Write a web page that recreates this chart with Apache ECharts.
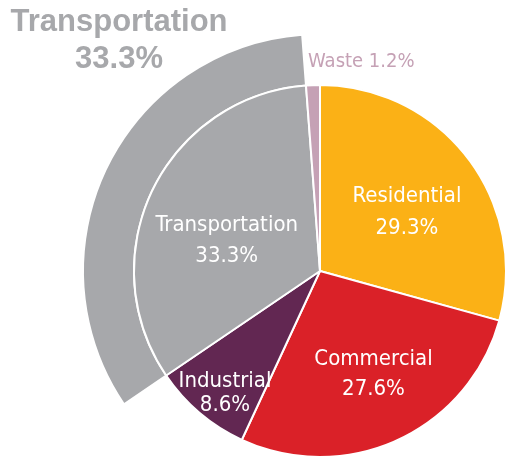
<!DOCTYPE html>
<html><head><meta charset="utf-8">
<script src="https://cdn.jsdelivr.net/npm/echarts@6/dist/echarts.min.js"></script>
<style>html,body{margin:0;padding:0;background:#fff}#c{width:506px;height:461px}</style>
</head><body><div id="c"></div>
<script>
const categories = ['Residential', 'Commercial', 'Industrial', 'Transportation', 'Waste'];
const shares = [29.3, 27.6, 8.6, 33.3, 1.2];
const highlighted = 'Transportation';

const colors = ['#fbb116', '#da2128', '#622752', '#a7a8ab', '#c5a1b5'];
const labelFrac = [0.563, 0.624, 0.831, 0.527, 1.125];
const labelShiftDeg = [3.4, -2.6, -2.4, -7.8, -1.1];
const lineHeights = [32, 30, 24, 31, 24];
const CX = 320, CY = 271, R = 186, R2 = 237;
const FONT = "'Liberation Sans Narrow','DejaVu Sans Condensed','Liberation Sans',sans-serif";

const total = shares.reduce((a, b) => a + b, 0);
function midAngle(i) {
  let s = 0; for (let k = 0; k < i; k++) s += shares[k];
  return (s + shares[i] / 2) / total * 2 * Math.PI;
}
const hiIdx = categories.indexOf(highlighted);

const chart = echarts.init(document.getElementById('c'), null, {renderer: 'canvas'});
chart.setOption({
  animation: false,
  graphic: [{
    type: 'text', x: 119, y: 4,
    style: {
      text: highlighted + '\n' + shares[hiIdx].toFixed(1) + '%',
      fill: '#a7a8ab', font: "bold 31px 'Liberation Sans',Arial,sans-serif",
      lineHeight: 37, align: 'center', verticalAlign: 'top',
      textAlign: 'center', textVerticalAlign: 'top'
    }
  }],
  series: [
    {
      type: 'pie', center: [CX, CY], radius: [R, R2], startAngle: 90, clockwise: true,
      silent: true, label: {show: false}, labelLine: {show: false},
      data: categories.map((c, i) => ({
        name: c, value: shares[i],
        itemStyle: i === hiIdx ? {color: colors[i], borderColor: '#fff', borderWidth: 2} : {color: 'rgba(0,0,0,0)', borderWidth: 0}
      }))
    },
    {
      type: 'pie', center: [CX, CY], radius: [0, R], startAngle: 90, clockwise: true,
      silent: true, labelLine: {show: false},
      itemStyle: {borderColor: '#fff', borderWidth: 2},
      label: {
        show: true, position: 'inside', color: '#fff', fontFamily: FONT, fontSize: 22,
        formatter: p => p.dataIndex === 4 ? p.name + ' ' + p.value.toFixed(1) + '%' : p.name + '\n' + p.value.toFixed(1) + '%'
      },
      labelLayout: function (p) {
        const i = p.dataIndex;
        const a = midAngle(i) + labelShiftDeg[i] * Math.PI / 180;
        const r = labelFrac[i] * R;
        const out = {x: CX + r * Math.sin(a), y: CY - r * Math.cos(a)};
        if (i === 4) { out.align = 'left'; }
        return out;
      },
      data: categories.map((c, i) => ({
        name: c, value: shares[i],
        itemStyle: {color: colors[i]},
        label: i === 4 ? {color: colors[i], fontSize: 20, lineHeight: lineHeights[i]} : {lineHeight: lineHeights[i]}
      }))
    }
  ]
});
</script></body></html>
